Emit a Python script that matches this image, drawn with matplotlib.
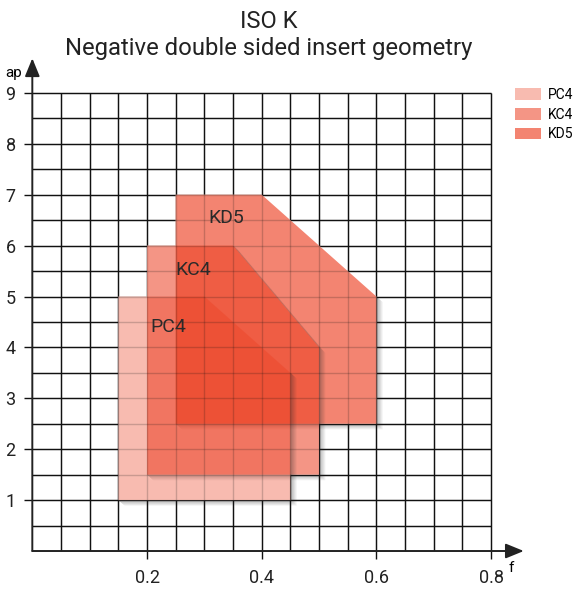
import numpy as np
import matplotlib
matplotlib.use("Agg")
import matplotlib.pyplot as plt
from matplotlib.path import Path
from matplotlib.patches import PathPatch, Polygon, Patch

plt.rcParams['font.family'] = ['Roboto', 'DejaVu Sans']

# grade areas: f (mm/rev) vs ap (mm)
grades = ["PC4", "KC4", "KD5"]
f_min = [0.15, 0.20, 0.25]
f_max = [0.45, 0.50, 0.60]
f_cut = [0.30, 0.35, 0.40]      # where the chamfer starts on the top edge
ap_min = [1.0, 1.5, 2.5]
ap_max = [5.0, 6.0, 7.0]
ap_cut = [3.5, 4.0, 5.0]        # where the chamfer ends on the right edge
label_f = [0.238, 0.28, 0.338]
label_ap = [4.40, 5.52, 6.54]

xticks = [0.2, 0.4, 0.6, 0.8]
xticklabels = ["0.2", "0.4", "0.6", "0.8"]
yticks = [1, 2, 3, 4, 5, 6, 7, 8, 9]

base = "#ec3c1e"
alphas = [0.35, 0.54, 0.63]


def hull(pts):
    # monotone chain convex hull, counter clockwise
    pts = sorted(set(map(tuple, pts)))
    def cross(o, a, b):
        return (a[0]-o[0])*(b[1]-o[1]) - (a[1]-o[1])*(b[0]-o[0])
    lower, upper = [], []
    for p in pts:
        while len(lower) >= 2 and cross(lower[-2], lower[-1], p) <= 0:
            lower.pop()
        lower.append(p)
    for p in reversed(pts):
        while len(upper) >= 2 and cross(upper[-2], upper[-1], p) <= 0:
            upper.pop()
        upper.append(p)
    return lower[:-1] + upper[:-1]


def ring_path(outer, inner):
    verts = list(outer) + [outer[0]] + list(inner[::-1]) + [inner[-1]]
    codes = ([Path.MOVETO] + [Path.LINETO]*(len(outer)-1) + [Path.CLOSEPOLY] +
             [Path.MOVETO] + [Path.LINETO]*(len(inner)-1) + [Path.CLOSEPOLY])
    return Path(verts, codes)


fig = plt.figure(figsize=(5.75, 5.89), dpi=100)
ax_pos = [0.0562, 0.0645, 0.8677, 0.8469]
ax = fig.add_axes(ax_pos)
xmax, ymax = 0.87, 9.8
ax.set_xlim(0, xmax)
ax.set_ylim(0, ymax)
for s in ax.spines.values():
    s.set_visible(False)

# size of one pixel in data units (for the drop shadows)
px = xmax / (ax_pos[2] * 575)
py = ymax / (ax_pos[3] * 589)

# grid: full black underneath, faint copy on top so it shows through the areas
gx = np.arange(0.05, 0.8001, 0.05)
gy = np.arange(0.5, 9.001, 0.5)
ax.vlines(gx, 0, 9, color="#111111", lw=1.0, zorder=1)
ax.hlines(gy, 0, 0.8, color="#111111", lw=1.0, zorder=1)
ax.vlines(gx, 0, 9, color="#111111", lw=1.0, alpha=0.2, zorder=9)
ax.hlines(gy, 0, 0.8, color="#111111", lw=1.0, alpha=0.2, zorder=9)

polys = []
for i in range(3):
    polys.append([(f_min[i], ap_min[i]), (f_max[i], ap_min[i]), (f_max[i], ap_cut[i]),
                  (f_cut[i], ap_max[i]), (f_min[i], ap_max[i])])
    ax.add_patch(Polygon(polys[i], closed=True, facecolor="white",
                         edgecolor="none", zorder=1.5))

# largest area at the bottom, PC4 on top
for i in [2, 1, 0]:
    poly = polys[i]
    z = 2 + (2 - i) * 2
    for k in range(1, 8):
        shifted = [(x + k*px*0.9, y - k*py*0.8) for x, y in poly]
        h = hull(poly + shifted)
        ax.add_patch(PathPatch(ring_path(h, poly), facecolor="#303030",
                               edgecolor="none", alpha=0.055, zorder=z))
    ax.add_patch(Polygon(poly, closed=True, facecolor=base, alpha=alphas[i],
                         edgecolor="none", zorder=z + 1))
    ax.text(label_f[i], label_ap[i], grades[i], fontsize=14, color="#2a2a2a",
            ha="center", va="center", zorder=10)

# axes with arrows
arrow = dict(arrowstyle="-|>,head_length=1.1,head_width=0.45", color="#222222",
             lw=1.4, shrinkA=0, shrinkB=0, mutation_scale=10)
ax.annotate("", xy=(0.857, 0), xytext=(0, 0), arrowprops=arrow,
            annotation_clip=False, zorder=12)
ax.annotate("", xy=(0, 9.68), xytext=(0, 0), arrowprops=arrow,
            annotation_clip=False, zorder=12)
ax.text(0.835, -0.33, "f", fontsize=11, ha="center", va="center", clip_on=False)
ax.text(-0.032, 9.4, "ap", fontsize=11, ha="center", va="center", clip_on=False)

ax.set_xticks(xticks)
ax.set_xticklabels(xticklabels)
ax.set_yticks(yticks)
ax.tick_params(axis="both", direction="out", length=6, width=1.0, colors="#111111",
               labelsize=13, labelcolor="#222222")
ax.tick_params(axis="x", pad=7)
ax.tick_params(axis="y", pad=6)

fig.text(269/575, 1 - 21/589, "ISO K", fontsize=17, ha="center", va="center", color="#222222")
fig.text(269/575, 1 - 48/589, "Negative double sided insert geometry", fontsize=17.2,
         ha="center", va="center", color="#222222")

handles = [Patch(facecolor=base, alpha=alphas[i], edgecolor="none", label=grades[i])
           for i in range(3)]
fig.legend(handles=handles, loc="upper left", bbox_to_anchor=(515/575, 1 - 88/589),
           frameon=False, fontsize=10, handlelength=1.9, handleheight=0.9,
           handletextpad=0.45, labelspacing=0.4, borderpad=0, borderaxespad=0)

fig.savefig("out.png", dpi=100)
